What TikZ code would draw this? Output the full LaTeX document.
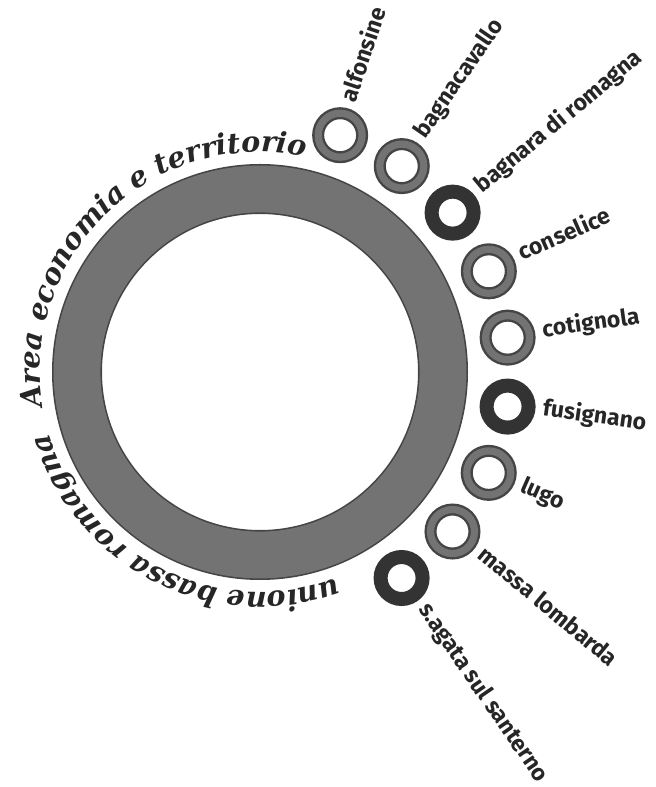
\documentclass[tikz,border=0pt]{standalone}
\usepackage{fontspec}
\newfontfamily\ringfont{DejaVu Serif}
\newfontfamily\townfont{Fira Sans}
\usepackage{tikz}
\usetikzlibrary{decorations.text}

\definecolor{ringgray}{gray}{0.45}
\definecolor{ringedge}{gray}{0.27}
\definecolor{boldgray}{gray}{0.2}
\definecolor{inkgray}{gray}{0.15}

\tikzset{
  hubring/.style={circle, inner sep=0pt, minimum size=183pt, draw=ringedge,
    line width=0.8pt, double=ringgray, double distance=23.4pt},
  smallring/.style={circle, inner sep=0pt, minimum size=22pt, draw=ringedge,
    line width=1.2pt, double=ringgray, double distance=3.6pt},
  boldring/.style={circle, inner sep=0pt, minimum size=21pt, draw=boldgray,
    line width=7pt},
  townlabel/.style={anchor=mid west, inner sep=0pt, text=inkgray,
    font=\townfont\bfseries\fontsize{11.5}{13}\selectfont},
  arctext/.style={decorate, decoration={text along path, text align=left,
    text color=inkgray, text={|\ringfont\bfseries\itshape\fontsize{14.3}{17}\selectfont|#1}}}
}

\begin{document}
\begin{tikzpicture}[x=0.5pt, y=0.5pt]
  \useasboundingbox (0,0) rectangle (655,787);

  % big ring
  \node[hubring] (hub) at (260,415) {};

  % titles round the ring
  \path[arctext={Area economia e territorio}]
    ([shift={(189:220)}]hub.center) arc[start angle=189, end angle=50, radius=220];
  \path[arctext={unione bassa romagna}]
    ([shift={(290.4:220)}]hub.center) arc[start angle=290.4, end angle=170, radius=220];

  % towns
  \foreach \town/\kind [count=\i from 0] in {alfonsine/smallring, bagnacavallo/smallring,
      bagnara di romagna/boldring, conselice/smallring, cotignola/smallring,
      fusignano/boldring, lugo/smallring, massa lombarda/smallring,
      s.agata sul santerno/boldring}
  {
    \pgfmathsetmacro\ang{71.3-15.85*\i}
    \node[\kind] (ring\i) at ([shift={(\ang:250)}]hub.center) {};
    \node[townlabel, rotate=\ang] (town\i) at ([shift={(\ang:285)}]hub.center) {\town};
  }
\end{tikzpicture}
\end{document}
